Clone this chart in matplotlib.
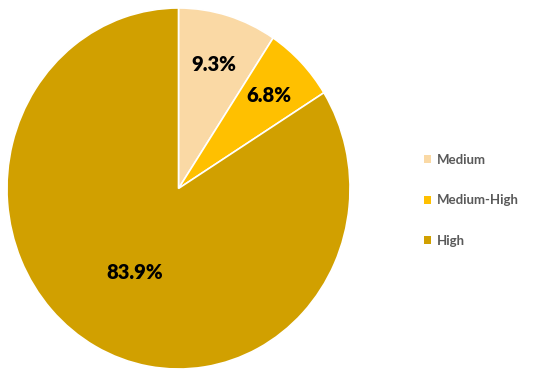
import matplotlib
matplotlib.use("Agg")
import matplotlib.pyplot as plt
import numpy as np

categories = ["Medium", "Medium-High", "High"]
values = [9.3, 6.8, 83.9]
colors = ["#FAD9A5", "#FFC000", "#D1A000"]
label_dist = [0.72, 0.74, 0.53]

W, H = 550, 377
fig = plt.figure(figsize=(W/100, H/100), dpi=100)
ax = fig.add_axes([7/W, 8/H, 343/W, 361/H])
wedges, _ = ax.pie(values, colors=colors, startangle=90, counterclock=False,
                   wedgeprops=dict(edgecolor="white", linewidth=1.2), radius=1)
ax.set_aspect("auto")
ax.set_xlim(-1, 1)
ax.set_ylim(-1, 1)
ax.axis("off")

cum = 0
for v, d in zip(values, label_dist):
    mid = 90 - (cum + v / 2) / 100 * 360
    cum += v
    ax.text(d * np.cos(np.radians(mid)), d * np.sin(np.radians(mid)), f"{v:.1f}%",
            ha="center", va="center", fontsize=14.5, fontweight="heavy",
            family="Lato", color="black")

leg = fig.legend(wedges, categories, loc="upper left", bbox_to_anchor=(412/W, 1 - 142/H),
                 frameon=False, handlelength=0.55, handleheight=0.55, handletextpad=0.45,
                 labelspacing=2.15, prop=dict(family="Lato", weight="bold", size=9.5))
for t in leg.get_texts():
    t.set_color("#595959")
for h in leg.legend_handles:
    h.set_edgecolor("none")

fig.savefig("out.png", dpi=100, facecolor="white")
